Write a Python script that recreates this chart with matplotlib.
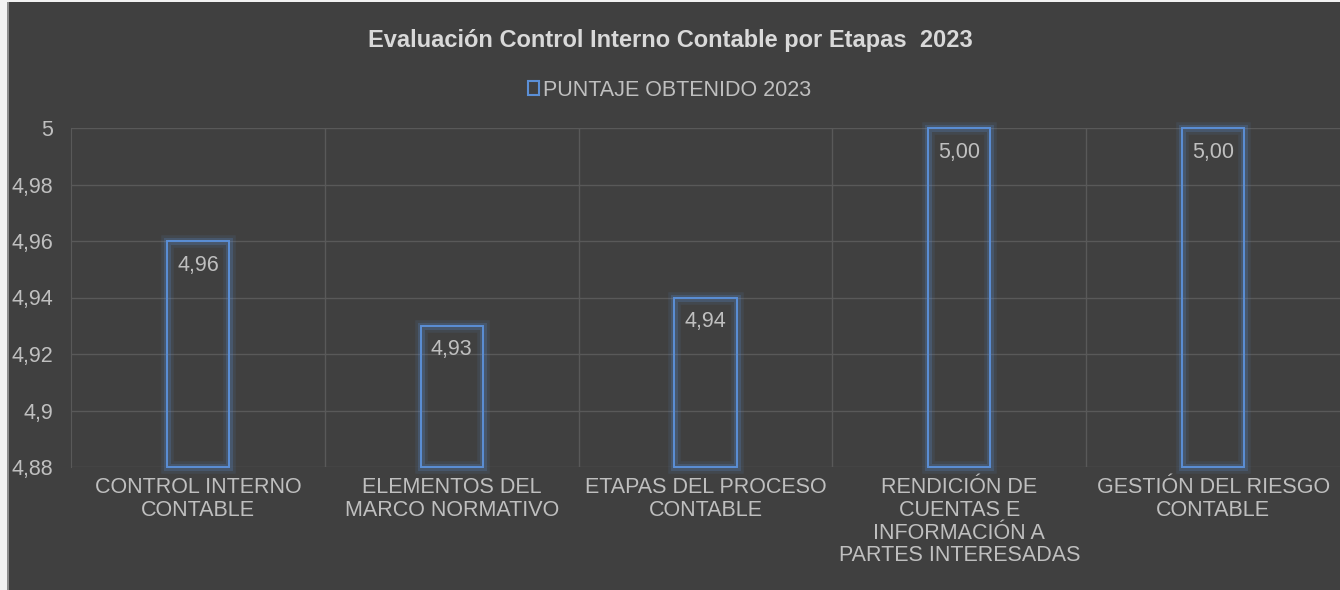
import matplotlib.pyplot as plt
import matplotlib.patheffects as pe
from matplotlib.patches import Rectangle, Patch
from matplotlib.ticker import FuncFormatter, MultipleLocator

categories = ['CONTROL INTERNO\nCONTABLE', 'ELEMENTOS DEL\nMARCO NORMATIVO',
              'ETAPAS DEL PROCESO\nCONTABLE',
              'RENDICIÓN DE\nCUENTAS E\nINFORMACIÓN A\nPARTES INTERESADAS',
              'GESTIÓN DEL RIESGO\nCONTABLE']
puntaje_2023 = [4.96, 4.93, 4.94, 5.00, 5.00]
series_name = 'PUNTAJE OBTENIDO 2023'
title = 'Evaluación Control Interno Contable por Etapas  2023'

bg = '#404040'
text_col = '#bfbfbf'
grid_col = '#595959'
bar_col = '#5b8fd6'
fs = 15.5

plt.rcParams['font.family'] = ['Liberation Sans', 'DejaVu Sans']

fig = plt.figure(figsize=(13.4, 5.9), dpi=100, facecolor=bg)
# light frame on the left/top edges like the screenshot
fig.patches.append(Rectangle((0, 0), 7 / 1340, 1, transform=fig.transFigure,
                             facecolor='#f2f2f2', edgecolor='none', zorder=0))
fig.patches.append(Rectangle((0, 1 - 2 / 590), 1, 2 / 590, transform=fig.transFigure,
                             facecolor='#f2f2f2', edgecolor='none', zorder=0))
fig.patches.append(Rectangle((7 / 1340, 0), 1.5 / 1340, 1 - 2 / 590, transform=fig.transFigure,
                             facecolor='#8c8c8c', edgecolor='none', zorder=0))

ax = fig.add_axes([71 / 1340, 123 / 590, 1 - 71 / 1340, 339 / 590])
ax.set_facecolor(bg)

x = range(len(categories))
bars = ax.bar(x, [v - 4.88 for v in puntaje_2023], bottom=4.88, width=0.245,
              facecolor='none', edgecolor=bar_col, linewidth=1.4, zorder=3)
for b in bars:
    b.set_path_effects([pe.Stroke(linewidth=9, foreground=bar_col, alpha=0.10),
                        pe.Stroke(linewidth=5, foreground=bar_col, alpha=0.22),
                        pe.Normal()])
    b.set_clip_on(False)

for xi, v in zip(x, puntaje_2023):
    ax.annotate(f'{v:.2f}'.replace('.', ','), (xi, min(v, 5.0)), xytext=(0, -24),
                textcoords='offset pixels', ha='center', va='center',
                fontsize=fs, color=text_col, zorder=4)

ax.set_xlim(-0.5, len(categories) - 0.5)
ax.set_ylim(4.88, 5.0)
ax.yaxis.set_major_locator(MultipleLocator(0.02))
ax.yaxis.set_major_formatter(FuncFormatter(
    lambda v, p: f'{v:.2f}'.rstrip('0').rstrip('.').replace('.', ',')))

ax.set_xticks(list(x))
ax.set_xticklabels(categories, fontsize=fs, color=text_col, linespacing=1.12)
ax.set_xticks([i + 0.5 for i in range(len(categories) - 1)], minor=True)
ax.tick_params(axis='x', which='both', length=0, pad=7)
ax.tick_params(axis='y', length=0, pad=13, labelsize=fs, labelcolor=text_col)

ax.grid(axis='y', color=grid_col, linewidth=1, zorder=0)
ax.grid(axis='x', which='minor', color=grid_col, linewidth=1, zorder=0)
for s in ['top', 'right', 'bottom']:
    ax.spines[s].set_visible(False)
ax.spines['left'].set_color(grid_col)

fig.text(0.5, 1 - 40 / 590, title, ha='center', va='center', fontsize=17,
         fontweight='bold', color='#d9d9d9')

handle = Patch(facecolor='none', edgecolor=bar_col, linewidth=1.5)
fig.legend(handles=[handle], labels=[series_name], loc='center',
           bbox_to_anchor=(0.5, 1 - 90 / 590), frameon=False, fontsize=fs,
           labelcolor=text_col, handlelength=0.5, handleheight=0.6,
           handletextpad=0.2)

fig.savefig('out.png', dpi=100, facecolor=bg)
